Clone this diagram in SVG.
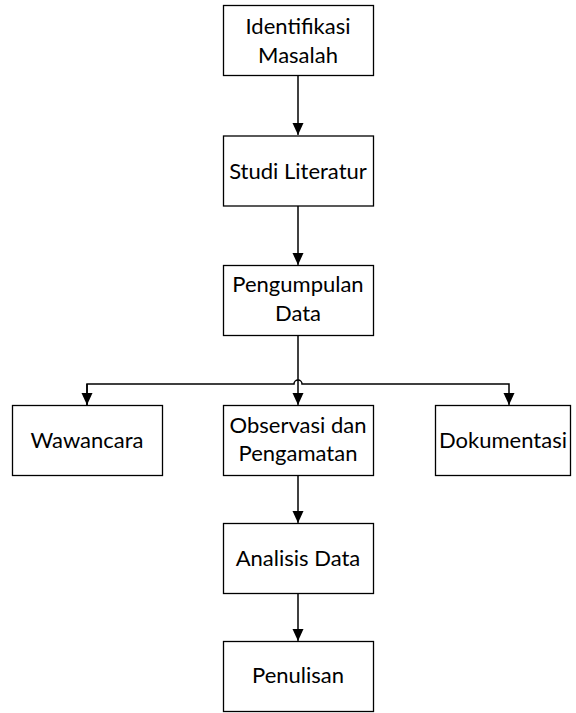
<svg xmlns="http://www.w3.org/2000/svg" width="576" height="713" viewBox="0 0 576 713">
<style>
.box{fill:#fff;stroke:#000;stroke-width:1.3}
.t{font-family:Lato,"Liberation Sans",sans-serif;font-size:22px;fill:#000;text-anchor:middle}
.c{fill:none;stroke:#000;stroke-width:1.5}
</style>
<defs>
<marker id="ah" markerWidth="11" markerHeight="12" refX="12" refY="5.5" orient="auto" markerUnits="userSpaceOnUse">
<path d="M0,0 L12,5.5 L0,11 Z" fill="#000"/>
</marker>
</defs>
<rect width="576" height="713" fill="#fff"/>
<g id="connectors">
<path class="c" d="M298,76 V135" marker-end="url(#ah)"/>
<path class="c" d="M298,206 V265" marker-end="url(#ah)"/>
<path class="c" d="M298,335 V405" marker-end="url(#ah)"/>
<path class="c" d="M87,405 V384 H294 A4,4 0 0 1 302,384 H509 V405" marker-end="url(#ah)"/>
<path class="c" d="M87,384 V405" marker-end="url(#ah)"/>
<path class="c" d="M298,476 V523" marker-end="url(#ah)"/>
<path class="c" d="M298,594 V641" marker-end="url(#ah)"/>
</g>
<g id="identifikasi"><rect class="box" x="223.5" y="5.5" width="150" height="70"/><text class="t" x="298" y="34">Identifikasi</text><text class="t" x="298" y="63">Masalah</text></g>
<g id="studi"><rect class="box" x="223.5" y="136" width="150" height="70"/><text class="t" x="298" y="179">Studi Literatur</text></g>
<g id="pengumpulan"><rect class="box" x="223.5" y="265.5" width="150" height="70"/><text class="t" x="298" y="292">Pengumpulan</text><text class="t" x="298" y="321">Data</text></g>
<g id="wawancara"><rect class="box" x="12.5" y="405.5" width="150" height="70"/><text class="t" x="87" y="448">Wawancara</text></g>
<g id="observasi"><rect class="box" x="223.5" y="405.5" width="150" height="70"/><text class="t" x="298" y="433">Observasi dan</text><text class="t" x="298" y="461">Pengamatan</text></g>
<g id="dokumentasi"><rect class="box" x="435.5" y="405.5" width="135" height="70"/><text class="t" x="503" y="448">Dokumentasi</text></g>
<g id="analisis"><rect class="box" x="223.5" y="523.5" width="150" height="70"/><text class="t" x="298" y="566">Analisis Data</text></g>
<g id="penulisan"><rect class="box" x="223.5" y="641.5" width="150" height="70"/><text class="t" x="298" y="683">Penulisan</text></g>
</svg>
